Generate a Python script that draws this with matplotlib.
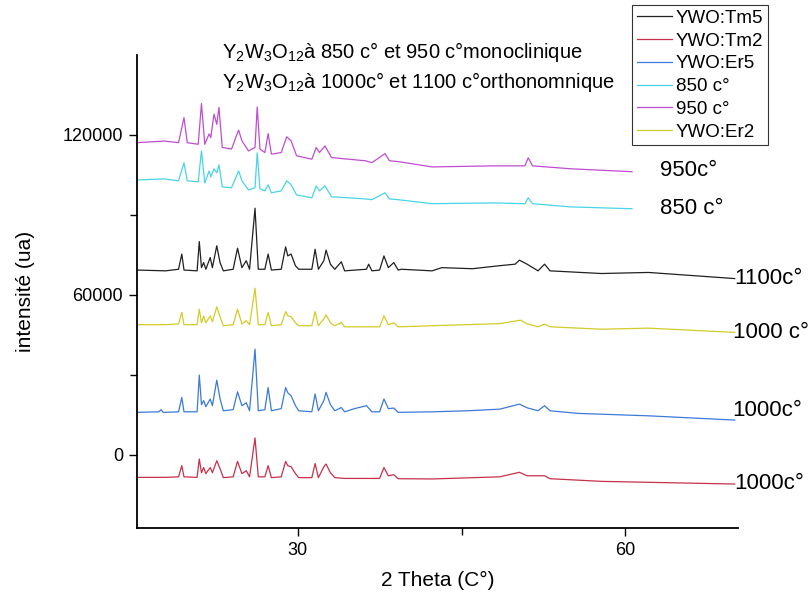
import matplotlib
matplotlib.use("Agg")
import matplotlib.pyplot as plt

plt.rcParams["font.family"] = ["Liberation Sans", "DejaVu Sans"]
plt.rcParams["mathtext.fontset"] = "custom"
plt.rcParams["mathtext.rm"] = "Liberation Sans"
plt.rcParams["mathtext.default"] = "rm"

# XRD traces, points (2 theta, intensity)
x_tm5 = [15.3, 17.9, 19.1, 19.4, 19.6, 20.8, 21.0, 21.2, 21.4, 21.6, 22.0, 22.2, 22.6, 22.9, 23.2,
         24.1, 24.5, 24.9, 25.3, 25.6, 26.1, 26.4, 27.0, 27.3, 27.6, 28.5, 28.9, 29.1, 29.4, 29.8,
         30.1, 31.3, 31.6, 31.9, 32.4, 32.6, 33.0, 33.4, 34.0, 34.3, 36.3, 36.5, 36.8, 37.5, 37.9,
         38.3, 38.8, 39.2, 39.5, 42.3, 43.2, 46.0, 48.4, 49.9, 50.3, 51.0, 52.0, 52.6, 53.1, 57.8, 62.1, 70.0]
i_tm5 = [69300, 69000, 69600, 75300, 69300, 69000, 80000, 70200, 72100, 69600, 74000, 70200, 78400, 72100, 69000,
         69600, 77500, 70200, 72800, 69600, 92500, 69600, 69600, 75300, 69300, 69600, 78000, 74600, 75300, 70900,
         69600, 69600, 77100, 69600, 72800, 76800, 71500, 69600, 72400, 69000, 69600, 71500, 69000, 69300, 74600,
         70200, 72100, 69300, 69600, 69000, 70200, 69800, 70900, 71500, 73000, 71500, 69000, 71500, 69000, 68000, 68400, 66100]

x_er2 = [15.3, 17.9, 19.1, 19.4, 19.6, 20.8, 21.0, 21.2, 21.4, 21.6, 22.0, 22.2, 22.6, 22.9, 23.2,
         24.1, 24.5, 24.9, 25.3, 25.6, 26.1, 26.4, 27.0, 27.3, 27.6, 28.5, 28.9, 29.1, 29.4, 29.8,
         30.1, 31.3, 31.6, 31.9, 32.4, 32.6, 33.0, 33.4, 34.0, 34.3, 37.5, 37.9, 38.3, 38.8, 39.2,
         42.3, 48.5, 50.4, 51.0, 52.0, 52.6, 53.1, 57.8, 62.1, 70.0]
i_er2 = [48800, 48800, 49100, 53400, 48800, 48800, 54600, 49500, 52100, 49500, 52100, 49900, 55500, 51800, 48400,
         48800, 54600, 49100, 50300, 48800, 62500, 48800, 48800, 53400, 48400, 48800, 53700, 52100, 51800, 49500,
         48400, 48400, 53700, 48400, 51000, 52500, 49500, 48400, 49600, 48000, 48000, 52100, 48800, 49500, 48000,
         48400, 49200, 50500, 49100, 48000, 49000, 48000, 47100, 47500, 45900]

x_er5 = [15.3, 17.3, 17.5, 17.7, 19.1, 19.4, 19.6, 20.8, 21.0, 21.2, 21.4, 21.6, 22.0, 22.2, 22.6, 22.9,
         23.2, 24.1, 24.5, 24.9, 25.3, 25.6, 26.1, 26.4, 27.0, 27.3, 27.6, 28.5, 28.9, 29.1, 29.4, 29.8,
         30.1, 31.3, 31.6, 31.9, 32.4, 32.6, 33.0, 33.4, 34.0, 34.3, 35.2, 36.3, 36.8, 37.5, 37.9, 38.3,
         38.8, 39.2, 42.3, 45.6, 48.5, 50.3, 51.0, 52.0, 52.6, 53.1, 55.7, 62.1, 70.0]
i_er5 = [15900, 16100, 16900, 15900, 16100, 21500, 16100, 16100, 29900, 18800, 20300, 18000, 20900, 18400, 28000, 21000,
         16500, 16900, 23600, 18400, 19500, 16500, 39600, 16500, 16900, 25200, 16500, 17300, 25200, 23250, 22100, 18400,
         16500, 16100, 22800, 16500, 20300, 23400, 18800, 16500, 17700, 16100, 17300, 18400, 16100, 16100, 20900, 17300,
         17500, 15900, 16100, 16500, 17100, 19000, 17600, 16500, 18400, 16500, 15500, 14600, 13000]

x_tm2 = [15.3, 17.9, 19.1, 19.4, 19.6, 20.8, 21.0, 21.2, 21.4, 21.6, 22.0, 22.2, 22.6, 22.9, 23.2,
         24.1, 24.5, 24.9, 25.3, 25.6, 26.1, 26.4, 27.0, 27.3, 27.6, 28.5, 28.9, 29.1, 29.4, 29.8,
         30.1, 31.3, 31.6, 31.9, 32.4, 32.6, 33.0, 33.4, 34.3, 37.5, 37.9, 38.3, 38.8, 39.2, 42.3,
         48.5, 50.3, 51.0, 52.6, 53.1, 57.8, 70.0]
i_tm2 = [-8500, -8500, -8300, -4100, -8300, -8500, -1600, -6750, -4800, -7100, -4800, -6750, -2250, -5250, -8600,
         -8300, -2500, -7100, -6000, -8300, 6300, -8300, -8300, -4100, -8600, -8300, -2500, -4100, -4500, -7100,
         -8600, -8600, -3300, -8600, -4500, -3500, -6750, -8600, -8900, -8900, -4800, -7900, -7500, -9000, -9100,
         -8300, -6600, -7900, -7900, -9000, -10000, -11000]

x_850 = [15.3, 17.8, 19.1, 19.6, 19.9, 20.9, 21.2, 21.5, 21.9, 22.05, 22.35, 22.6, 22.8, 23.1, 23.95,
         24.6, 24.9, 25.5, 26.1, 26.3, 26.55, 27.0, 27.3, 27.6, 28.5, 29.0, 29.4, 29.9, 31.3, 31.7,
         32.0, 32.5, 33.1, 36.2, 36.8, 38.0, 38.4, 39.2, 42.3, 48.0, 50.8, 51.1, 51.5, 55.0, 60.6]
i_850 = [103100, 103500, 102800, 109500, 102800, 102400, 114000, 102000, 106500, 104300, 107300, 105800, 108800, 100500, 100200,
         106500, 102800, 99400, 100200, 113300, 99800, 99000, 101300, 98300, 99000, 102800, 101300, 97500, 96400, 100900,
         99000, 100900, 96800, 96000, 95700, 98300, 96000, 95700, 94200, 94500, 94200, 96400, 94200, 93000, 92300]

x_950 = [15.3, 17.8, 19.1, 19.6, 19.9, 20.9, 21.2, 21.5, 21.9, 22.05, 22.35, 22.6, 22.8, 23.1, 23.95,
         24.4, 24.6, 24.9, 25.5, 26.1, 26.3, 26.55, 27.0, 27.3, 27.6, 28.5, 29.0, 29.4, 29.9, 31.3,
         31.7, 32.0, 32.5, 33.1, 36.2, 36.8, 38.0, 38.4, 39.2, 42.3, 48.0, 50.8, 51.1, 51.5, 55.0, 60.6]
i_950 = [117100, 117700, 117100, 126500, 117100, 116500, 131800, 116500, 120400, 119000, 127800, 124000, 130300, 115300, 114700,
         119700, 121800, 117800, 114000, 115300, 130500, 114700, 113400, 120500, 112800, 113400, 119300, 117800, 112200, 110900,
         115300, 113400, 115900, 111500, 110300, 109600, 113000, 110300, 110000, 108000, 108400, 108400, 111400, 108400, 107300, 106200]

series = [
    ("YWO:Tm5", x_tm5, i_tm5, "#202020"),
    ("YWO:Tm2", x_tm2, i_tm2, "#c8304a"),
    ("YWO:Er5", x_er5, i_er5, "#3a7ad8"),
    ("850 c°", x_850, i_850, "#48d4e6"),
    ("950 c°", x_950, i_950, "#c04cd0"),
    ("YWO:Er2", x_er2, i_er2, "#d2cc28"),
]

# temperature labels at the right end of each trace
end_labels = [
    ("950c°", 63.15, 106500),
    ("850 c°", 63.15, 92250),
    ("1100c°", 70.0, 66000),
    ("1000 c°", 69.8, 45750),
    ("1000c°", 69.8, 16500),
    ("1000c°", 70.0, -10900),
]

fig = plt.figure(figsize=(8.09, 5.98), dpi=100)
ax = fig.add_axes([137 / 809, 70 / 598, 601 / 809, 473 / 598])

for name, xs, ys, col in series:
    ax.plot(xs, ys, color=col, lw=0.9, label=name)

for txt, xv, yv in end_labels:
    ax.text(xv, yv, txt, fontsize=16, va="center", ha="left", clip_on=False)

ax.set_xlim(15.3, 70.3)
ax.set_ylim(-27500, 150000)
ax.set_xticks([30, 60])
ax.set_xticks([45], minor=True)
ax.set_yticks([0, 60000, 120000])
ax.set_yticks([30000, 90000], minor=True)
ax.tick_params(direction="out", length=6, width=1, labelsize=13, pad=4)
ax.tick_params(which="minor", direction="out", length=5, width=1)
for s in ["top", "right"]:
    ax.spines[s].set_visible(False)
for s in ["left", "bottom"]:
    ax.spines[s].set_linewidth(1.3)

ax.set_xlabel("2 Theta (C°)", fontsize=15, labelpad=9)
ax.set_ylabel("intensité (ua)", fontsize=15, labelpad=20)

fig.text(222 / 809, 1 - 52 / 598, r"Y$_2$W$_3$O$_{12}$à 850 c° et 950 c°monoclinique",
         fontsize=14.5, va="center", ha="left")
fig.text(222 / 809, 1 - 82 / 598, r"Y$_2$W$_3$O$_{12}$à 1000c° et 1100 c°orthonomnique",
         fontsize=14.5, va="center", ha="left")

leg = fig.legend(loc="upper left", bbox_to_anchor=(632 / 809, 1 - 5 / 598), fontsize=13.5,
                 frameon=True, fancybox=False, borderaxespad=0, handlelength=1.9,
                 handletextpad=0.2, labelspacing=0.3, borderpad=0.25)
leg.get_frame().set_edgecolor("black")
leg.get_frame().set_linewidth(0.8)

fig.savefig("out.png", dpi=100)
